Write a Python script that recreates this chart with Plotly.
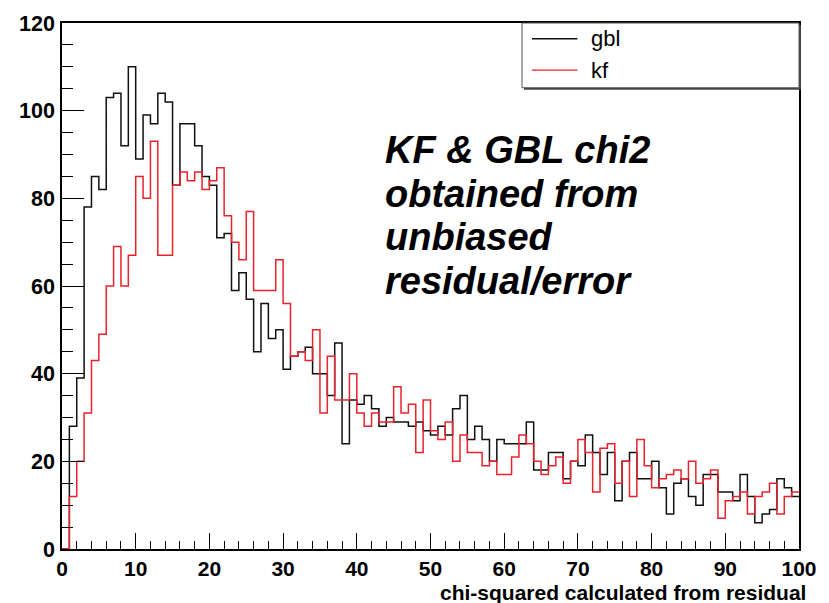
import plotly.graph_objects as go

# ---- data (100 bins from 0 to 100) ----
bin_edges = list(range(0, 101))
gbl_counts = [0, 28, 39, 78, 85, 82, 103, 104, 92, 110,
              89, 99, 97, 104, 102, 83, 97, 97, 92, 85,
              83, 71, 72, 59, 63, 57, 45, 56, 48, 50,
              41, 44, 45, 46, 40, 40, 35, 47, 24, 34,
              33, 35, 32, 28, 30, 29, 29, 28, 29, 27,
              26, 28, 26, 32, 35, 25, 28, 25, 20, 25,
              24, 24, 24, 29, 18, 18, 22, 22, 16, 20,
              19, 26, 22, 17, 22, 11, 20, 22, 16, 16,
              20, 14, 8, 15, 16, 12, 10, 17, 17, 13,
              13, 11, 17, 12, 6, 8, 9, 16, 14, 12]
kf_counts = [0, 12, 20, 31, 43, 49, 60, 69, 60, 67,
             85, 80, 93, 67, 67, 83, 86, 84, 86, 82,
             84, 87, 76, 70, 66, 77, 59, 59, 59, 66,
             56, 44, 45, 43, 50, 31, 44, 34, 34, 40,
             31, 28, 31, 29, 29, 37, 31, 33, 22, 34,
             27, 25, 29, 20, 26, 22, 22, 19, 20, 17,
             17, 21, 26, 24, 20, 17, 19, 21, 15, 20,
             25, 22, 13, 23, 24, 15, 20, 12, 25, 19,
             14, 16, 17, 18, 16, 20, 15, 16, 18, 7,
             11, 12, 13, 8, 12, 13, 15, 8, 12, 13]
series_names = ["gbl", "kf"]
series_colors = ["#111111", "#e8232b"]
x_title = "chi-squared calculated from residual"
note_lines = ["KF & GBL chi2", "obtained from", "unbiased", "residual/error"]

# ---- layout geometry (pixels) ----
W, H = 829, 603
L, R, T, B = 62, 807, 13, 549
PW, PH = R - L, B - T


def xp(px):
    return (px - L) / PW


def yp(py):
    return (B - py) / PH


FONT = "Liberation Sans, Arial, sans-serif"

fig = go.Figure()
for name, counts, col in zip(series_names, [gbl_counts, kf_counts], series_colors):
    fig.add_trace(go.Scatter(
        x=bin_edges, y=counts + [counts[-1]],
        mode="lines", line=dict(color=col, width=1.5, shape="hv"),
        name=name, showlegend=False, hoverinfo="skip"))

axis_common = dict(
    showgrid=False, zeroline=False, showline=True, mirror=True,
    linecolor="black", linewidth=1.6, ticks="inside", tickcolor="black",
    tickwidth=1,
)

fig.update_layout(
    width=W, height=H,
    margin=dict(l=L, r=W - R, t=T, b=H - B),
    paper_bgcolor="white", plot_bgcolor="white",
    xaxis=dict(range=[0, 100], dtick=10, ticklen=16,
               minor=dict(ticks="inside", dtick=2, ticklen=8, tickcolor="black"),
               tickfont=dict(family=FONT, size=21, color="black", weight="bold"),
               ticklabelstandoff=0,
               **axis_common),
    yaxis=dict(range=[0, 120], dtick=20, ticklen=22,
               minor=dict(ticks="inside", dtick=5, ticklen=11, tickcolor="black"),
               tickfont=dict(family=FONT, size=21.5, color="black", weight="bold"),
               ticklabelstandoff=1,
               **axis_common),
    showlegend=False,
)

shapes = []
# legend box with shadow
shapes.append(dict(type="rect", xref="paper", yref="paper",
                   x0=xp(527 + 2), x1=xp(R + 2), y0=yp(79 + 2), y1=yp(T + 2),
                   fillcolor="#444444", line=dict(width=0), layer="above"))
shapes.append(dict(type="rect", xref="paper", yref="paper",
                   x0=xp(527), x1=xp(R), y0=yp(79), y1=yp(T),
                   fillcolor="white", line=dict(color="#555555", width=1), layer="above"))
legend_y = [29, 61]
for col, ly in zip(series_colors, legend_y):
    shapes.append(dict(type="line", xref="paper", yref="paper",
                       x0=xp(537), x1=xp(583), y0=yp(ly), y1=yp(ly),
                       line=dict(color=col, width=1.4), layer="above"))
fig.update_layout(shapes=shapes)

annotations = []
for name, ly in zip(series_names, legend_y):
    annotations.append(dict(text=name, xref="paper", yref="paper",
                            x=xp(595), y=yp(ly), xanchor="left", yanchor="middle",
                            showarrow=False,
                            font=dict(family=FONT, size=22, color="black")))
annotations.append(dict(text=x_title, xref="paper", yref="paper",
                        x=1.0, y=yp(593), xanchor="right", yanchor="middle",
                        xshift=9, showarrow=False,
                        font=dict(family=FONT, size=21, color="black", weight="bold")))
note_centers = [142, 187, 231, 276]
for line, cy in zip(note_lines, note_centers):
    annotations.append(dict(text=line, xref="paper", yref="paper",
                            x=xp(386), y=yp(cy), xanchor="left", yanchor="middle",
                            showarrow=False,
                            font=dict(family=FONT, size=38, color="black",
                                      weight="bold", style="italic")))
fig.update_layout(annotations=annotations)

fig.write_html("out.html")
